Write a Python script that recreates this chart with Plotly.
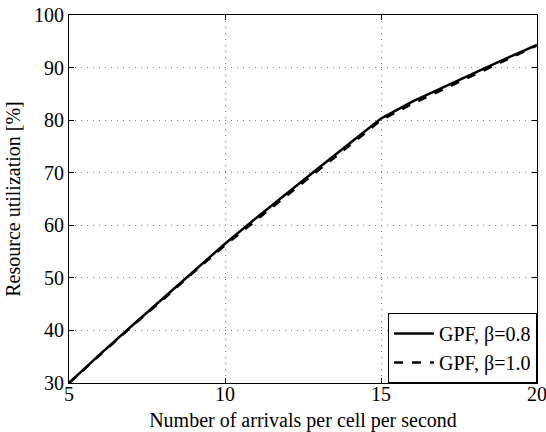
import plotly.graph_objects as go

arrivals = [5, 6, 7, 8, 9, 10, 11, 12, 13, 14, 15, 16, 17, 18, 19, 20]
util_b08 = [30, 35.5, 40.8, 46.0, 51.3, 56.5, 61.4, 66.2, 70.9, 75.6, 80.3, 83.5, 86.3, 89.0, 91.7, 94.3]
util_b10 = [30, 35.4, 40.7, 45.8, 51.1, 56.2, 61.0, 65.8, 70.5, 75.2, 80.0, 83.1, 85.9, 88.7, 91.5, 94.2]
names = ["GPF, β=0.8", "GPF, β=1.0"]
x_ticks = [5, 10, 15, 20]
y_ticks = [30, 40, 50, 60, 70, 80, 90, 100]

font = "Liberation Serif"
fs = 20

fig = go.Figure()
fig.add_trace(go.Scatter(x=arrivals, y=util_b08, mode="lines", name=names[0],
                         line=dict(color="black", width=2.5)))
fig.add_trace(go.Scatter(x=arrivals, y=util_b10, mode="lines", name=names[1],
                         line=dict(color="black", width=2.5, dash="dash")))

axis_common = dict(showline=True, linecolor="black", linewidth=1, mirror="allticks",
                   ticks="inside", ticklen=5, tickcolor="black", automargin=False,
                   ticklabeloverflow="allow",
                   showgrid=True, gridcolor="#808080", griddash="1px,5px", gridwidth=1,
                   zeroline=False, tickfont=dict(family=font, size=fs, color="black"))

fig.update_xaxes(range=[5, 20], tickvals=x_ticks, ticklabelstandoff=-7,
                 title=dict(text="Number of arrivals per cell per second",
                            font=dict(family=font, size=fs, color="black"), standoff=8),
                 **axis_common)
fig.update_yaxes(range=[30, 100], tickvals=y_ticks,
                 title=dict(text="Resource utilization [%]",
                            font=dict(family=font, size=fs, color="black"), standoff=8),
                 **axis_common)

fig.update_layout(
    width=546, height=432,
    margin=dict(l=69, r=9, t=15, b=49),
    paper_bgcolor="white", plot_bgcolor="white",
    font=dict(family=font, size=fs, color="black"),
    legend=dict(x=1, y=0, xanchor="right", yanchor="bottom",
                bgcolor="white", bordercolor="black", borderwidth=1,
                font=dict(family=font, size=fs, color="black"),
                tracegroupgap=0, itemwidth=40),
    showlegend=True,
)

fig.write_html("out.html", config={"displayModeBar": False},
               post_script="document.body.style.margin='0';document.body.style.overflow='hidden';")
